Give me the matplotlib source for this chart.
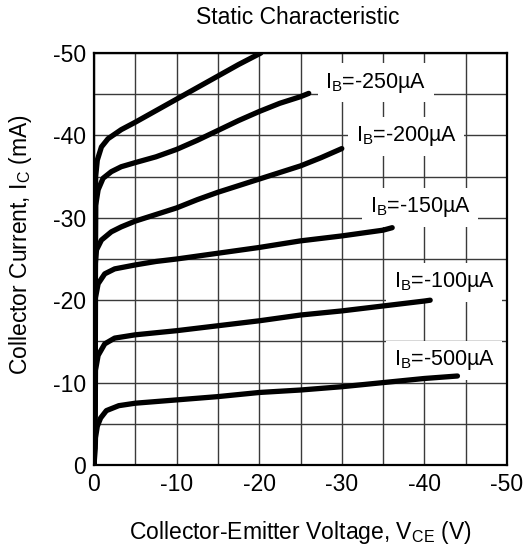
import matplotlib
matplotlib.use("Agg")
import matplotlib.pyplot as plt
import numpy as np

plt.rcParams['font.family'] = ['Liberation Sans', 'DejaVu Sans']
plt.rcParams['mathtext.fontset'] = 'custom'
plt.rcParams['mathtext.rm'] = 'Liberation Sans'

# Curves: (Vce, Ic)
vce_300 = [0, -0.15, -0.2, -0.4, -0.9, -1.7, -3.3, -5.0, -7.5, -10.0, -12.5, -15.0, -17.5, -20.2]
ic_300 = [0, -20.0, -35.0, -37.0, -38.6, -39.6, -40.7, -41.6, -43.0, -44.4, -45.8, -47.2, -48.6, -50.0]

vce_250 = [0, -0.15, -0.2, -0.5, -1.1, -2.1, -3.3, -5.0, -7.5, -10.0, -12.5, -15.0, -17.5, -20.0, -22.5, -25.0, -26.0]
ic_250 = [0, -20.0, -31.5, -33.4, -34.8, -35.6, -36.2, -36.7, -37.4, -38.3, -39.4, -40.6, -41.8, -42.9, -43.9, -44.7, -45.1]

vce_200 = [0, -0.15, -0.18, -0.3, -0.9, -2.1, -3.3, -5.0, -7.5, -10.0, -12.5, -15.0, -17.5, -20.0, -22.5, -25.0, -27.5, -30.0]
ic_200 = [0, -15.0, -24.5, -26.1, -27.3, -28.3, -28.9, -29.6, -30.4, -31.2, -32.2, -33.1, -33.9, -34.7, -35.5, -36.3, -37.3, -38.4]

vce_150 = [0, -0.15, -0.18, -0.5, -1.3, -2.5, -5.1, -7.5, -10.0, -15.0, -20.0, -25.0, -30.0, -35.0, -36.1]
ic_150 = [0, -10.0, -20.3, -22.0, -23.2, -23.8, -24.3, -24.7, -25.0, -25.7, -26.4, -27.2, -27.8, -28.5, -28.8]

vce_100 = [0, -0.15, -0.18, -0.5, -1.3, -2.5, -5.0, -10.0, -15.0, -20.0, -25.0, -30.0, -35.0, -40.0, -40.7]
ic_100 = [0, -6.0, -11.5, -13.3, -14.7, -15.4, -15.8, -16.3, -16.9, -17.5, -18.2, -18.7, -19.3, -19.9, -20.0]

vce_500 = [0, -0.15, -0.18, -0.4, -0.8, -1.5, -3.0, -5.0, -10.0, -15.0, -20.0, -25.0, -30.0, -35.0, -40.0, -44.0]
ic_500 = [0, -2.0, -3.3, -4.7, -5.7, -6.6, -7.2, -7.5, -7.9, -8.3, -8.8, -9.1, -9.5, -10.0, -10.5, -10.8]

curves = [(vce_300, ic_300), (vce_250, ic_250), (vce_200, ic_200),
          (vce_150, ic_150), (vce_100, ic_100), (vce_500, ic_500)]

labels = ['-250', '-200', '-150', '-100', '-500']
label_x = [-34.1, -37.8, -39.5, -42.4, -42.4]
label_y = [-46.4, -39.9, -31.3, -22.2, -12.7]

x_ticks = [0, -10, -20, -30, -40, -50]
y_ticks = [0, -10, -20, -30, -40, -50]

W, H = 525, 549
fig = plt.figure(figsize=(W / 100, H / 100), dpi=100)
ax = fig.add_axes([94 / W, 1 - 465 / H, (507 - 94) / W, (465 - 53) / H])

for vx, iy in curves:
    ax.plot(vx, iy, color='black', lw=3.8, solid_capstyle='round',
            solid_joinstyle='round', zorder=5)

for lab, lx, ly in zip(labels, label_x, label_y):
    ax.text(lx, ly, r'I$_\mathregular{B}$=' + lab + 'µA', ha='center', va='center',
            fontsize=15.5, zorder=4,
            bbox=dict(boxstyle='square,pad=0.35', fc='white', ec='none'))

ax.set_xlim(0, -50)
ax.set_ylim(0, -50)
ax.set_xticks(x_ticks)
ax.set_yticks(y_ticks)
ax.set_xticklabels([str(v) for v in x_ticks])
ax.set_yticklabels([str(v) for v in y_ticks])
ax.set_xticks(np.arange(0, -50, -5), minor=True)
ax.set_yticks(np.arange(0, -50, -5), minor=True)
ax.grid(True, which='both', color='#3a3a3a', lw=1.0, zorder=1)
ax.set_axisbelow(True)
ax.tick_params(which='both', length=0, labelsize=16.5)
ax.tick_params(axis='x', pad=5.5)
ax.tick_params(axis='y', pad=5.8)
for s in ax.spines.values():
    s.set_linewidth(1.6)
    s.set_zorder(6)

fig.text(298 / W, 1 - 17 / H, 'Static Characteristic', ha='center', va='center', fontsize=16.5)
fig.text(300 / W, 1 - 532 / H, r'Collector-Emitter Voltage, V$_\mathregular{CE}$ (V)',
         ha='center', va='center', fontsize=16.5)
fig.text(20 / W, 1 - 245 / H, r'Collector Current, I$_\mathregular{C}$ (mA)',
         ha='center', va='center', rotation=90, fontsize=16.5)

fig.savefig('out.png', dpi=100)
